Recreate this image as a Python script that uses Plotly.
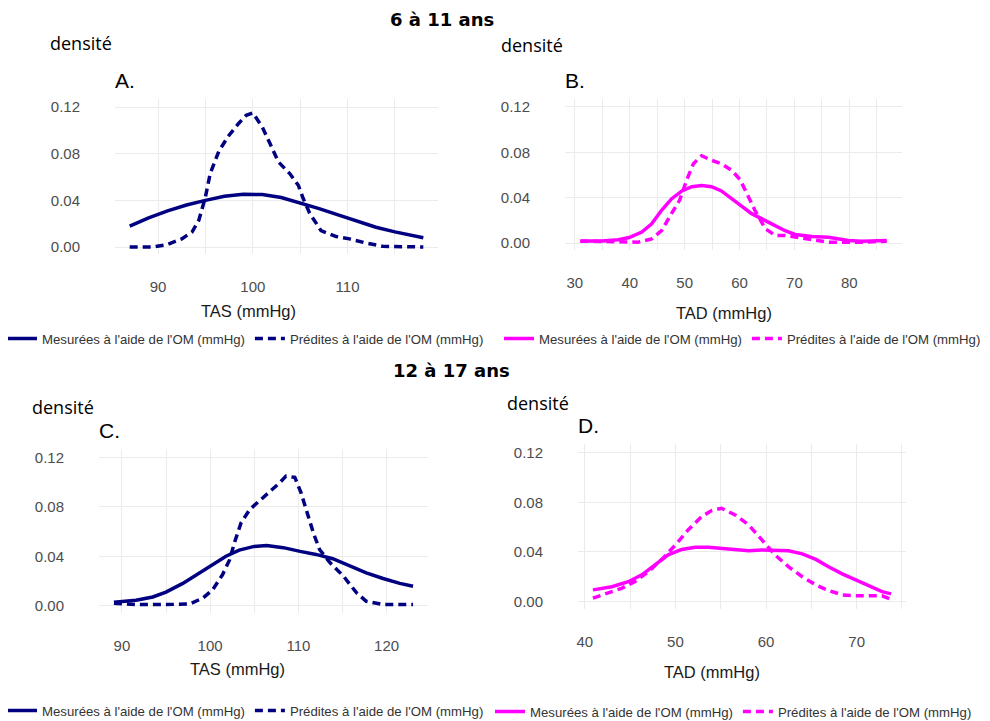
import plotly.graph_objects as go

# ---------------- data ----------------
A_meas_x = [87, 89, 91, 93, 95, 97, 99, 101, 103, 105, 107, 109, 111, 113, 115, 117, 118]
A_meas_y = [0.018, 0.025, 0.031, 0.036, 0.040, 0.0435, 0.0452, 0.0450, 0.0425, 0.038, 0.033,
            0.0275, 0.022, 0.017, 0.013, 0.0095, 0.008]
A_pred_x = [87, 89.4, 90.9, 92.5, 93.6, 94.3, 95.0, 95.5, 96.4, 97.4, 98.5, 99.3, 100.0, 101.0,
            101.8, 102.7, 103.9, 104.8, 105.3, 106.0, 107.2, 108.8, 110.2, 111.9, 113.7, 118]
A_pred_y = [0, 0, 0.002, 0.007, 0.013, 0.023, 0.043, 0.063, 0.082, 0.095, 0.106, 0.113, 0.115,
            0.103, 0.089, 0.073, 0.063, 0.053, 0.042, 0.029, 0.014, 0.009, 0.007, 0.0035, 0.0006, 0]

B_meas_x = [31, 34.9, 37.9, 39.9, 42.2, 44.0, 45.8, 47.6, 49.5, 51.3, 53.1, 54.9, 56.7, 58.6,
            60.4, 62.2, 64.0, 65.9, 68.3, 70.1, 73.2, 76.2, 78.0, 79.8, 82.3, 86.8]
B_meas_y = [0.002, 0.002, 0.003, 0.005, 0.0098, 0.017, 0.029, 0.039, 0.046, 0.0497, 0.0508,
            0.0497, 0.046, 0.039, 0.032, 0.026, 0.0216, 0.017, 0.011, 0.0077, 0.0059, 0.0053,
            0.0038, 0.0024, 0.0018, 0.0024]
B_pred_x = [31, 34.9, 37.9, 41.5, 44.0, 45.8, 47.6, 49.1, 50.4, 51.6, 53.1, 54.9, 56.7, 58.6,
            60.1, 61.3, 62.8, 64.7, 66.5, 68.3, 70.1, 73.2, 76.2, 79.2, 82.3, 86.8]
B_pred_y = [0.0018, 0.0012, 0.0009, 0.0009, 0.0038, 0.011, 0.026, 0.038, 0.056, 0.070, 0.077,
            0.073, 0.070, 0.064, 0.056, 0.044, 0.029, 0.0127, 0.0068, 0.0068, 0.0053, 0.003,
            0.0009, 0.0009, 0.0009, 0.0018]

C_meas_x = [89.1, 91.6, 93.5, 95.0, 96.9, 98.8, 100.3, 101.8, 103.3, 105.0, 106.4, 108.3, 110.2,
            112.0, 113.9, 115.8, 117.7, 119.6, 121.5, 123.0]
C_meas_y = [0.0027, 0.0043, 0.007, 0.011, 0.018, 0.0266, 0.033, 0.040, 0.045, 0.048, 0.0488,
            0.047, 0.044, 0.0415, 0.038, 0.0325, 0.0266, 0.022, 0.018, 0.0157]
C_pred_x = [89.1, 91.6, 95.0, 97.7, 99.2, 100.3, 101.4, 102.2, 102.8, 103.5, 104.5, 105.6, 106.7,
            107.9, 108.6, 109.6, 110.3, 110.9, 111.7, 112.4, 113.6, 115.1, 116.6, 117.7, 119.6, 123.0]
C_pred_y = [0.002, 0.0008, 0.0008, 0.0014, 0.0062, 0.013, 0.025, 0.037, 0.052, 0.067, 0.078,
            0.085, 0.0916, 0.0997, 0.105, 0.104, 0.0916, 0.078, 0.059, 0.0455, 0.0347, 0.024,
            0.0103, 0.0035, 0.0008, 0.0008]

D_meas_x = [40.9, 43.0, 44.8, 46.3, 47.75, 49.2, 50.7, 52.2, 53.65, 55.1, 56.6, 58.1, 59.55,
            61.0, 62.5, 64.0, 65.5, 66.9, 68.4, 69.9, 71.4, 72.8, 73.8]
D_meas_y = [0.0094, 0.012, 0.016, 0.0215, 0.0295, 0.0376, 0.042, 0.0438, 0.0438, 0.043, 0.0416,
            0.041, 0.0416, 0.0416, 0.041, 0.0384, 0.034, 0.028, 0.0223, 0.0175, 0.0126, 0.008, 0.0062]
D_pred_x = [40.9, 42.6, 44.06, 45.5, 47.0, 48.5, 50.0, 51.4, 52.9, 54.0, 55.1, 56.6, 58.1, 59.55,
            61.0, 62.5, 64.0, 65.5, 66.9, 68.4, 69.9, 71.4, 72.8, 73.8]
D_pred_y = [0.0027, 0.0067, 0.0107, 0.016, 0.024, 0.034, 0.0456, 0.0577, 0.0685, 0.0733, 0.0752,
            0.0698, 0.0617, 0.0497, 0.0376, 0.028, 0.020, 0.0134, 0.0089, 0.0054, 0.0046, 0.0046,
            0.0046, 0.0019]

y_ticks = [0.00, 0.04, 0.08, 0.12]
y_ticklabels = ["0.00", "0.04", "0.08", "0.12"]
series_names = ["Mesurées à l'aide de l'OM (mmHg)", "Prédites à l'aide de l'OM (mmHg)"]
group_titles = ["6 à 11 ans", "12 à 17 ans"]
panel_letters = ["A.", "B.", "C.", "D."]
x_titles = ["TAS (mmHg)", "TAD (mmHg)", "TAS (mmHg)", "TAD (mmHg)"]
y_title = "densité"

# ---------------- layout helpers ----------------
# page body has an 8px default margin: the figure is sized to fit the window
OFF = 8
W, H = 990 - OFF, 721 - OFF
def fx(p):
    return (p - OFF) / W
def fy(p):
    return 1 - (p - OFF) / H

NAVY = "#000080"
MAGENTA = "#FF00FF"
GRID = "#EBEBEB"
TICKC = "#4D4D4D"
FONT = "Liberation Sans, Arial"

panels = [
    dict(mx=A_meas_x, my=A_meas_y, px=A_pred_x, py=A_pred_y, color=NAVY,
         box=(115, 438, 99, 254), title_xy=(248, 311), legend="legend", leg_xy=(2, 339)),
    dict(mx=B_meas_x, my=B_meas_y, px=B_pred_x, py=B_pred_y, color=MAGENTA,
         box=(565, 902, 99, 250), title_xy=(724, 313), legend="legend2", leg_xy=(499, 339)),
    dict(mx=C_meas_x, my=C_meas_y, px=C_pred_x, py=C_pred_y, color=NAVY,
         box=(99, 428, 449, 613), title_xy=(237, 669), legend="legend3", leg_xy=(2, 711)),
    dict(mx=D_meas_x, my=D_meas_y, px=D_pred_x, py=D_pred_y, color=MAGENTA,
         box=(578, 906, 444, 609), title_xy=(712, 672), legend="legend4", leg_xy=(490, 712)),
]

fig = go.Figure()
layout_axes = {}
annotations = []
legends = {}
YR = [-0.006, 0.127]

for i, p in enumerate(panels):
    k = "" if i == 0 else str(i + 1)
    xa, ya = "x" + k, "y" + k
    lo = min(min(p["mx"]), min(p["px"]))
    hi = max(max(p["mx"]), max(p["px"]))
    span = hi - lo
    xr = [lo - 0.05 * span, hi + 0.05 * span]
    for j, (xs, ys, dash) in enumerate([(p["mx"], p["my"], "solid"),
                                         (p["px"], p["py"], "8px,5px")]):
        fig.add_trace(go.Scatter(
            x=xs, y=ys, mode="lines", name=series_names[j],
            line=dict(color=p["color"], width=3.5, dash=dash),
            xaxis=xa, yaxis=ya, legend=p["legend"], showlegend=True,
            hoverinfo="skip"))
    l, r, t, b = p["box"]
    layout_axes["xaxis" + k] = dict(
        domain=[fx(l), fx(r)], range=xr, anchor=ya, dtick=10, tick0=0,
        showgrid=True, gridcolor=GRID, gridwidth=1.2, zeroline=False, showline=False,
        ticks="", ticklabelstandoff=22, tickfont=dict(family=FONT, size=15, color=TICKC),
        minor=dict(dtick=5, tick0=0, showgrid=True, gridcolor=GRID, gridwidth=1.2))
    layout_axes["yaxis" + k] = dict(
        domain=[fy(b), fy(t)], range=YR, anchor=xa, tickvals=y_ticks, ticktext=y_ticklabels,
        showgrid=True, gridcolor=GRID, gridwidth=1.2, zeroline=False, showline=False,
        ticks="", ticklabelstandoff=34, tickfont=dict(family=FONT, size=15, color=TICKC))
    # panel letter
    annotations.append(dict(text=panel_letters[i], x=fx(l - 2), y=fy(t - 19), xref="paper", yref="paper",
                            xanchor="left", yanchor="middle", showarrow=False,
                            font=dict(family=FONT, size=21, color="black")))
    # x axis title
    tx, ty = p["title_xy"]
    annotations.append(dict(text=x_titles[i], x=fx(tx), y=fy(ty), xref="paper", yref="paper",
                            xanchor="center", yanchor="middle", showarrow=False,
                            font=dict(family=FONT, size=16.5, color="#1A1A1A")))
    lx, ly = p["leg_xy"]
    legends[p["legend"]] = dict(orientation="h", x=fx(lx), y=fy(ly), xanchor="left", yanchor="middle",
                                bgcolor="rgba(0,0,0,0)", itemwidth=30, tracegroupgap=0,
                                font=dict(family=FONT, size=13.2, color="#333333"))

# "densité" labels
for (x0, y0) in [(48, 43), (499, 45), (30, 407), (505, 403)]:
    annotations.append(dict(text=y_title, x=fx(x0), y=fy(y0), xref="paper", yref="paper",
                            xanchor="left", yanchor="middle", showarrow=False,
                            font=dict(family="Open Sans", size=18, color="black")))

# group titles
annotations.append(dict(text="<b>" + group_titles[0] + "</b>", x=fx(442), y=1.0, xref="paper", yref="paper",
                        xanchor="center", yanchor="top", showarrow=False, borderpad=0,
                        font=dict(family="DejaVu Sans", size=18, color="black")))
annotations.append(dict(text="<b>" + group_titles[1] + "</b>", x=fx(451), y=fy(370), xref="paper", yref="paper",
                        xanchor="center", yanchor="middle", showarrow=False,
                        font=dict(family="DejaVu Sans", size=18, color="black")))

fig.update_layout(
    width=W, height=H, margin=dict(l=0, r=0, t=0, b=0, autoexpand=False),
    paper_bgcolor="white", plot_bgcolor="white",
    annotations=annotations, **layout_axes, **legends)

fig.write_html("out.html")
